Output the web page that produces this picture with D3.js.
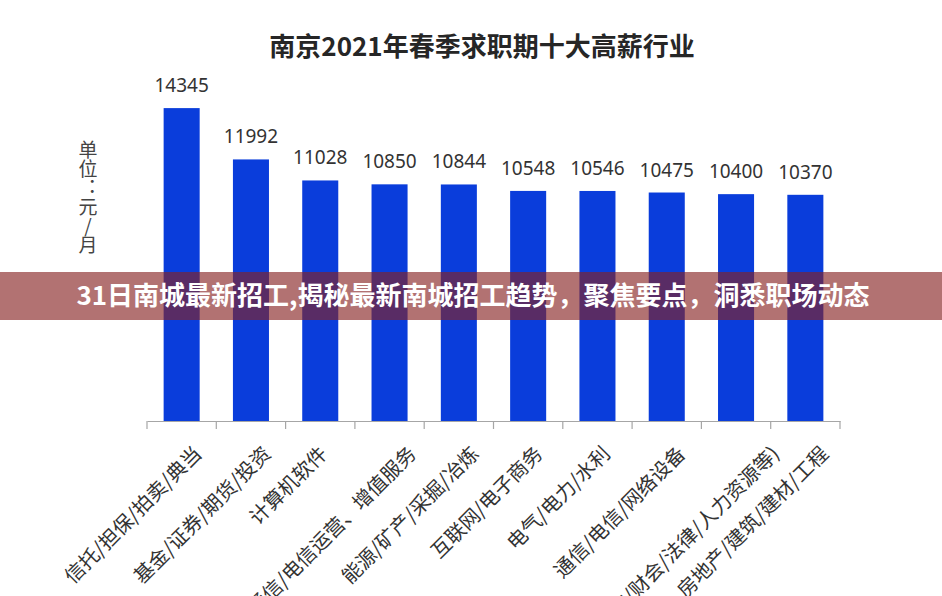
<!DOCTYPE html>
<html>
<head>
<meta charset="utf-8">
<script src="https://cdn.jsdelivr.net/npm/d3@7"></script>
<style>
  html, body { margin: 0; padding: 0; background: #fff; }
  svg { display: block; }
</style>
</head>
<body>
<svg id="chart" width="942" height="596"></svg>
<script>
const categories = [
  "信托/担保/拍卖/典当",
  "基金/证券/期货/投资",
  "计算机软件",
  "通信/电信运营、增值服务",
  "能源/矿产/采掘/冶炼",
  "互联网/电子商务",
  "电气/电力/水利",
  "通信/电信/网络设备",
  "专业服务(咨询/财会/法律/人力资源等)",
  "房地产/建筑/建材/工程"
];
const salaries = [14345, 11992, 11028, 10850, 10844, 10548, 10546, 10475, 10400, 10370];
const titleText = "南京2021年春季求职期十大高薪行业";
const unitLabel = "单位：元/月";
const bannerText = "31日南城最新招工,揭秘最新南城招工趋势，聚焦要点，洞悉职场动态";

const svg = d3.select("#chart");
const W = 942, H = 596;
const cjk = "'Noto Sans CJK SC', 'Noto Sans', sans-serif";

const x = d3.scaleBand().domain(categories).range([147, 840])
  .paddingInner(0.48).paddingOuter(0.24);
const y = d3.scaleLinear().domain([0, 16000]).range([421, 72]);

// Title
svg.append("text")
  .attr("x", 482).attr("y", 56)
  .attr("text-anchor", "middle")
  .attr("font-family", cjk).attr("font-weight", "bold")
  .attr("font-size", 26).attr("fill", "#262626")
  .text(titleText);

// Y unit label (vertical writing)
svg.append("text")
  .attr("x", 88).attr("y", 140)
  .attr("font-family", cjk).attr("font-size", 19).attr("fill", "#444")
  .style("writing-mode", "vertical-rl")
  .style("text-orientation", "upright")
  .text(unitLabel);

// Bars
svg.append("g").selectAll("rect").data(salaries).join("rect")
  .attr("x", (d, i) => x(categories[i]))
  .attr("y", d => y(d))
  .attr("width", x.bandwidth())
  .attr("height", d => y(0) - y(d))
  .attr("fill", "#0a3ddb");

// Value labels
svg.append("g").selectAll("text").data(salaries).join("text")
  .attr("x", (d, i) => x(categories[i]) + x.bandwidth() / 2)
  .attr("y", d => y(d) - 16)
  .attr("text-anchor", "middle")
  .attr("font-family", "'Noto Sans', 'Open Sans', sans-serif")
  .attr("font-size", 19).attr("fill", "#333")
  .text(d => d);

// Axis
const axis = d3.axisBottom(x).tickSize(0).tickFormat("");
const ag = svg.append("g").attr("transform", "translate(0,421)").call(axis);
ag.select(".domain").attr("stroke", "#a6a6a6").attr("stroke-width", 1.2);
const step = x.step();
const bounds = d3.range(categories.length + 1).map(i => 147 + i * step);
ag.selectAll(".bt").data(bounds).join("line").attr("class", "bt")
  .attr("x1", d => d).attr("x2", d => d)
  .attr("y1", 0).attr("y2", 8)
  .attr("stroke", "#a6a6a6").attr("stroke-width", 1.2);

// Rotated category labels
const lg = svg.append("g");
categories.forEach((c, i) => {
  const cx = x(c) + x.bandwidth() / 2;
  const t = lg.append("text")
    .attr("font-family", cjk).attr("font-size", 20).attr("fill", "#333")
    .attr("text-anchor", "end")
    .text(c);
  const L = t.node().getComputedTextLength();
  const dx = 0.152 * L - 6.7;
  t.attr("transform", `translate(${cx + dx},455) rotate(-45)`);
});

// Banner overlay
svg.append("rect")
  .attr("x", 0).attr("y", 272).attr("width", W).attr("height", 48)
  .attr("fill", "rgb(135,35,35)").attr("fill-opacity", 0.64);
svg.append("text")
  .attr("x", 473).attr("y", 305)
  .attr("text-anchor", "middle")
  .attr("font-family", cjk).attr("font-weight", "bold")
  .attr("font-size", 26).attr("fill", "#fff")
  .text(bannerText);
</script>
</body>
</html>
